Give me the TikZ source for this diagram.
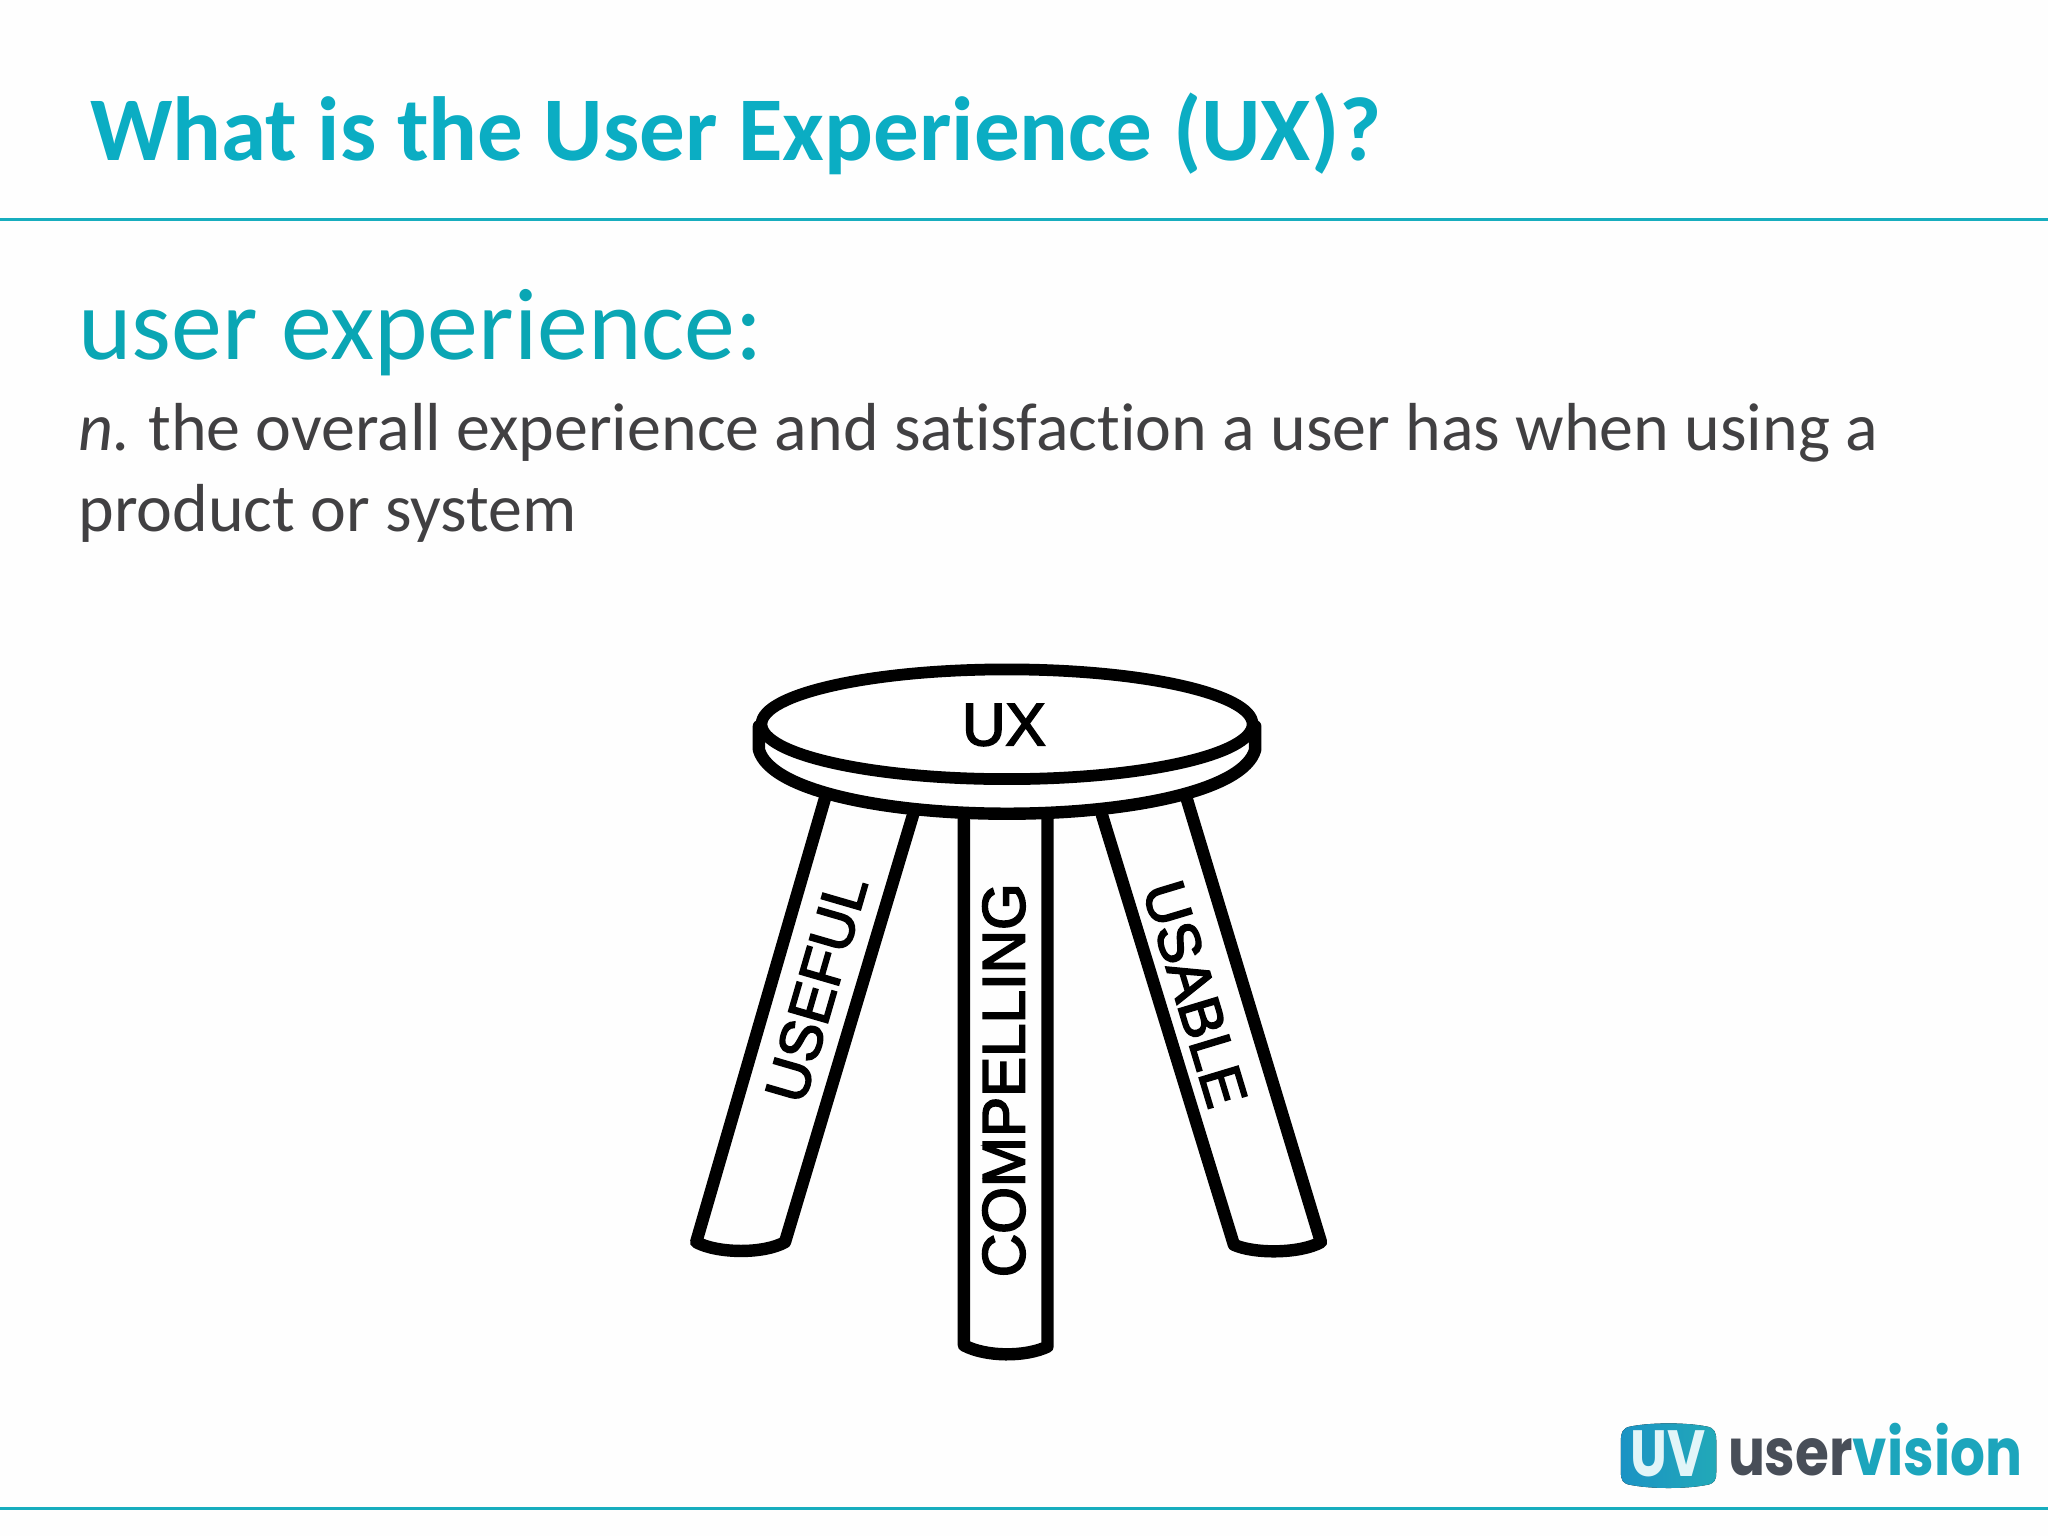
\documentclass[tikz,border=0pt]{standalone}
\usepackage{fontspec}
\setmainfont{Carlito}[Ligatures=NoCommon]
\newfontfamily\stoolfont{Liberation Sans}[FakeBold=3]
\newfontfamily\logofont{Poppins}
\definecolor{titleteal}{HTML}{0BADC3}
\definecolor{headteal}{HTML}{0AA6B4}
\definecolor{ruleteal}{HTML}{17ADBE}
\definecolor{bodygrey}{HTML}{414042}
\definecolor{logogrey}{HTML}{484E58}
\definecolor{logoteal}{HTML}{1CA5BC}
\definecolor{badgeA}{HTML}{1B93C4}
\definecolor{badgeB}{HTML}{22A9B8}
\tikzset{
  txt/.style={anchor=base west,inner sep=0pt,outer sep=0pt},
  stoolline/.style={draw=black,line width=9.5pt,line join=round,line cap=round},
  stoollabel/.style={inner sep=0pt,text=black,font=\stoolfont\fontsize{46}{50}\selectfont},
  rulestyle/.style={draw=ruleteal,line width=2pt}
}
\begin{document}
\begin{tikzpicture}[x=1pt,y=-1pt]
\useasboundingbox (0,0) rectangle (1568,1176);
\fill[white!99.6!black] (0,0) rectangle (1568,1176);
\coordinate (r1a) at (0,168); \coordinate (r1b) at (1568,168);
\coordinate (r2a) at (0,1155); \coordinate (r2b) at (1568,1155);
\draw[rulestyle] (r1a) -- (r1b);
\draw[rulestyle] (r2a) -- (r2b);
\node[txt,text=titleteal,font=\bfseries\fontsize{69.7}{80}\selectfont] (title) at (69,123) {What is the User Experience (UX)?};
\node[txt,text=headteal,font=\fontsize{78}{80}\selectfont] (head) at (60,275) {user experience:};
\node[txt,text=bodygrey,font=\fontsize{52}{60}\selectfont] (line1) at (60,345) {\textit{n.}\kern-2pt{} the overall experience and satisfaction a user has when using a};
\node[txt,text=bodygrey,font=\fontsize{52}{60}\selectfont] (line2) at (60,407) {product or system};
% legs
\draw[stoolline] (634,603) -- (533,951) .. controls (550,960) and (585,960) .. (601,951) -- (702.6,612);
\draw[stoolline] (738,612) -- (738,1030) .. controls (755,1039) and (785,1039) .. (802,1031) -- (802,612);
\draw[stoolline] (840,612) -- (944.7,953) .. controls (960,960) and (995,960) .. (1011.4,951) -- (906,603);
% seat
\draw[stoolline,fill=white] (581,556) -- (581,574) .. controls (590,606) and (680,623) .. (771,623) .. controls (862,623) and (952,606) .. (961,574) -- (961,556);
\draw[stoolline,line width=9pt,fill=white] (771,554.5) ellipse (188 and 42);
\node[stoollabel] (ux) at (768.6,555) {UX};
\node[stoollabel,rotate=90] (compelling) at (768.6,827) {COMPELLING};
\node[stoollabel,rotate=73.8,font=\stoolfont\fontsize{45}{50}\selectfont] (useful) at (625,757) {USEFUL};
\node[stoollabel,rotate=-73.2,font=\stoolfont\fontsize{45}{50}\selectfont] (usable) at (915,761) {USABLE};
% logo
\fill[left color=badgeA,right color=badgeB] (1249,1092) .. controls (1265,1089) and (1290,1089) .. (1306,1092) .. controls (1313,1093) and (1314,1097) .. (1314,1103) -- (1314,1127) .. controls (1314,1133) and (1313,1136) .. (1306,1137) .. controls (1290,1140) and (1265,1140) .. (1249,1137) .. controls (1242,1136) and (1241,1133) .. (1241,1127) -- (1241,1103) .. controls (1241,1097) and (1242,1093) .. (1249,1092) -- cycle;
\node[inner sep=0pt,text=white!88!titleteal,font=\logofont\bfseries\fontsize{50}{50}\selectfont] (uv) at (1277,1113) {\scalebox{0.8}[1]{UV}};
\node[txt,font=\logofont\bfseries\fontsize{50}{50}\selectfont] (logotext) at (1323,1130) {\scalebox{0.84}[1]{\textcolor{logogrey}{user}\textcolor{logoteal}{vision}}};
\end{tikzpicture}
\end{document}
